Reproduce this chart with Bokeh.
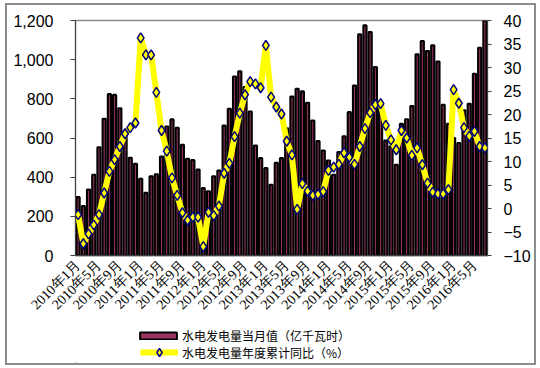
import math
from bokeh.plotting import figure
from bokeh.layouts import column
from bokeh.models import (Range1d, LinearAxis, FixedTicker, NumeralTickFormatter,
                          Legend, LegendItem, ColumnDataSource)
from bokeh.embed import file_html
from bokeh.resources import INLINE

# ---- data ----
hydro = [298, 252, 337, 412, 553, 698, 824, 820, 752, 630, 499, 468,
         392, 320, 405, 415, 505, 659, 695, 652, 565, 494, 487, 439,
         344, 328, 405, 434, 664, 749, 914, 941, 860, 735, 562, 497,
         446, 361, 473, 497, 650, 812, 851, 838, 780, 689, 584, 536,
         485, 412, 528, 609, 732, 868, 1129, 1175, 1141, 962, 775, 587,
         557, 463, 672, 696, 763, 1027, 1095, 1044, 1073, 991, 770, 672,
         600, 574, 741, 775, 928, 1061, 1200]
yoy = [-1.3, -7.5, -5.4, -3.5, -1.3, 3.3, 7.9, 10.4, 13.2, 15.9, 17.2, 18.2,
       36.3, 32.7, 32.7, 24.7, 16.6, 12.2, 6.5, 2.8, -0.9, -2.5, -1.85, -1.85,
       -8.1, -0.8, -1.5, 0.5, 7.5, 9.6, 15.3, 20.3, 24.2, 27.0, 26.5, 25.7,
       34.7, 23.7, 21.6, 20.1, 14.3, 11.4, -0.2, 5.3, 3.7, 2.8, 3.0, 3.6,
       8.1, 8.8, 9.4, 11.85, 10.9, 9.4, 13.2, 17.0, 20.4, 22.1, 22.3, 17.7,
       14.6, 12.5, 16.6, 15.0, 11.3, 12.9, 9.3, 5.4, 3.5, 3.1, 3.1, 4.0,
       25.3, 22.4, 17.2, 15.4, 16.4, 13.2, 12.9]
tick_labels = ["2010年1月", "2010年5月", "2010年9月", "2011年1月", "2011年5月",
               "2011年9月", "2012年1月", "2012年5月", "2012年9月", "2013年1月",
               "2013年5月", "2013年9月", "2014年1月", "2014年5月", "2014年9月",
               "2015年1月", "2015年5月", "2015年9月", "2016年1月", "2016年5月"]
bar_name = "水电发电量当月值（亿千瓦时）"
line_name = "水电发电量年度累计同比（%）"

BAR_FILL = "#993366"
BAR_LINE = "black"
LINE_COL = "#FFFF00"
MARK_LINE = "#000080"

n = len(hydro)
idx = list(range(n))
tick_pos = list(range(0, n, 4))[:len(tick_labels)]
src = ColumnDataSource(data=dict(x=idx, hydro=hydro, yoy=yoy))

W = 527
p = figure(width=W, height=321, x_range=Range1d(-0.5, n - 0.5),
           y_range=Range1d(0, 1200), output_backend="svg", toolbar_location=None,
           min_border_left=68, min_border_right=47, min_border_top=15,
           min_border_bottom=71)
p.extra_y_ranges = {"pct": Range1d(-10, 40)}
p.xgrid.visible = False
p.ygrid.visible = False
p.outline_line_color = "#8c8c8c"
p.outline_line_width = 1.5

bars = p.vbar(x="x", top="hydro", width=0.6, source=src, fill_color=BAR_FILL,
              line_color=BAR_LINE, line_width=2.1)
ln = p.line("x", "yoy", y_range_name="pct", source=src, line_color=LINE_COL,
            line_width=6)
pts = p.scatter("x", "yoy", y_range_name="pct", source=src, marker="diamond",
                size=10, fill_color=LINE_COL, line_color=MARK_LINE, line_width=1.5)

# x axis
xa = p.xaxis[0]
xa.ticker = FixedTicker(ticks=tick_pos)
xa.major_label_overrides = {t: l for t, l in zip(tick_pos, tick_labels)}
xa.major_label_orientation = math.pi / 4
xa.major_label_text_font = "Liberation Serif"
xa.major_label_text_font_size = "14px"
xa.major_label_text_color = "black"
xa.axis_line_color = "#404040"
xa.axis_line_width = 1.5
xa.major_tick_line_color = None
xa.major_tick_out = 0
xa.major_tick_in = 0
xa.minor_tick_line_color = None
xa.minor_tick_out = 0
xa.major_label_standoff = 7

# left axis
ya = p.yaxis[0]
ya.ticker = FixedTicker(ticks=list(range(0, 1201, 200)))
ya.formatter = NumeralTickFormatter(format="0,0")
ya.major_label_text_font = "Liberation Sans"
ya.major_label_text_font_size = "16px"
ya.major_label_text_color = "black"
ya.axis_line_color = "#404040"
ya.major_tick_line_color = "#404040"
ya.major_tick_out = 5
ya.major_tick_in = 0
ya.minor_tick_line_color = None
ya.major_label_standoff = 17

# right axis
ra = LinearAxis(y_range_name="pct", ticker=FixedTicker(ticks=list(range(-10, 41, 5))))
ra.major_label_text_font = "Liberation Sans"
ra.major_label_text_font_size = "16px"
ra.major_label_text_color = "black"
ra.axis_line_color = "#404040"
ra.major_tick_line_color = "#404040"
ra.major_tick_out = 4
ra.major_tick_in = 0
ra.minor_tick_line_color = None
ra.major_label_standoff = 12
p.add_layout(ra, "right")

# legend strip below the chart (off-screen proxy glyphs carry the legend styles)
q = figure(width=W, height=37, x_range=Range1d(0, 1), y_range=Range1d(0, 1),
           output_backend="svg", toolbar_location=None,
           x_axis_location=None, y_axis_location=None,
           min_border_left=0, min_border_right=0, min_border_top=0,
           min_border_bottom=0)
q.xgrid.visible = False
q.ygrid.visible = False
q.outline_line_color = None
proxy = ColumnDataSource(data=dict(x=[-10, -9], y=[-10, -10]))
kb = q.vbar(x="x", top="y", width=0.5, source=proxy, fill_color=BAR_FILL,
            line_color=BAR_LINE, line_width=2)
kl = q.line("x", "y", source=proxy, line_color=LINE_COL, line_width=6)
ks = q.scatter("x", "y", source=proxy, marker="diamond", size=10,
               fill_color=LINE_COL, line_color=MARK_LINE, line_width=1.5)

common = dict(padding=0, margin=0, spacing=0, border_line_color=None,
              background_fill_alpha=0, label_text_font="Noto Sans CJK SC",
              label_text_font_size="12px", label_text_baseline="middle",
              label_text_color="black")
leg1 = Legend(items=[LegendItem(label=bar_name, renderers=[kb])],
              location=(60, 19), glyph_width=46, glyph_height=9, label_height=9,
              label_standoff=1, **common)
leg2 = Legend(items=[LegendItem(label=line_name, renderers=[kl, ks])],
              location=(65, 1), glyph_width=38, glyph_height=20, label_height=20,
              label_standoff=4, **common)
q.add_layout(leg1)
q.add_layout(leg2)

layout = column(p, q, spacing=0, margin=(5, 0, 0, 7),
                styles={"outline": "2px solid #8c8c8c", "outline-offset": "0px"})

open("out.html", "w").write(file_html(layout, INLINE))
